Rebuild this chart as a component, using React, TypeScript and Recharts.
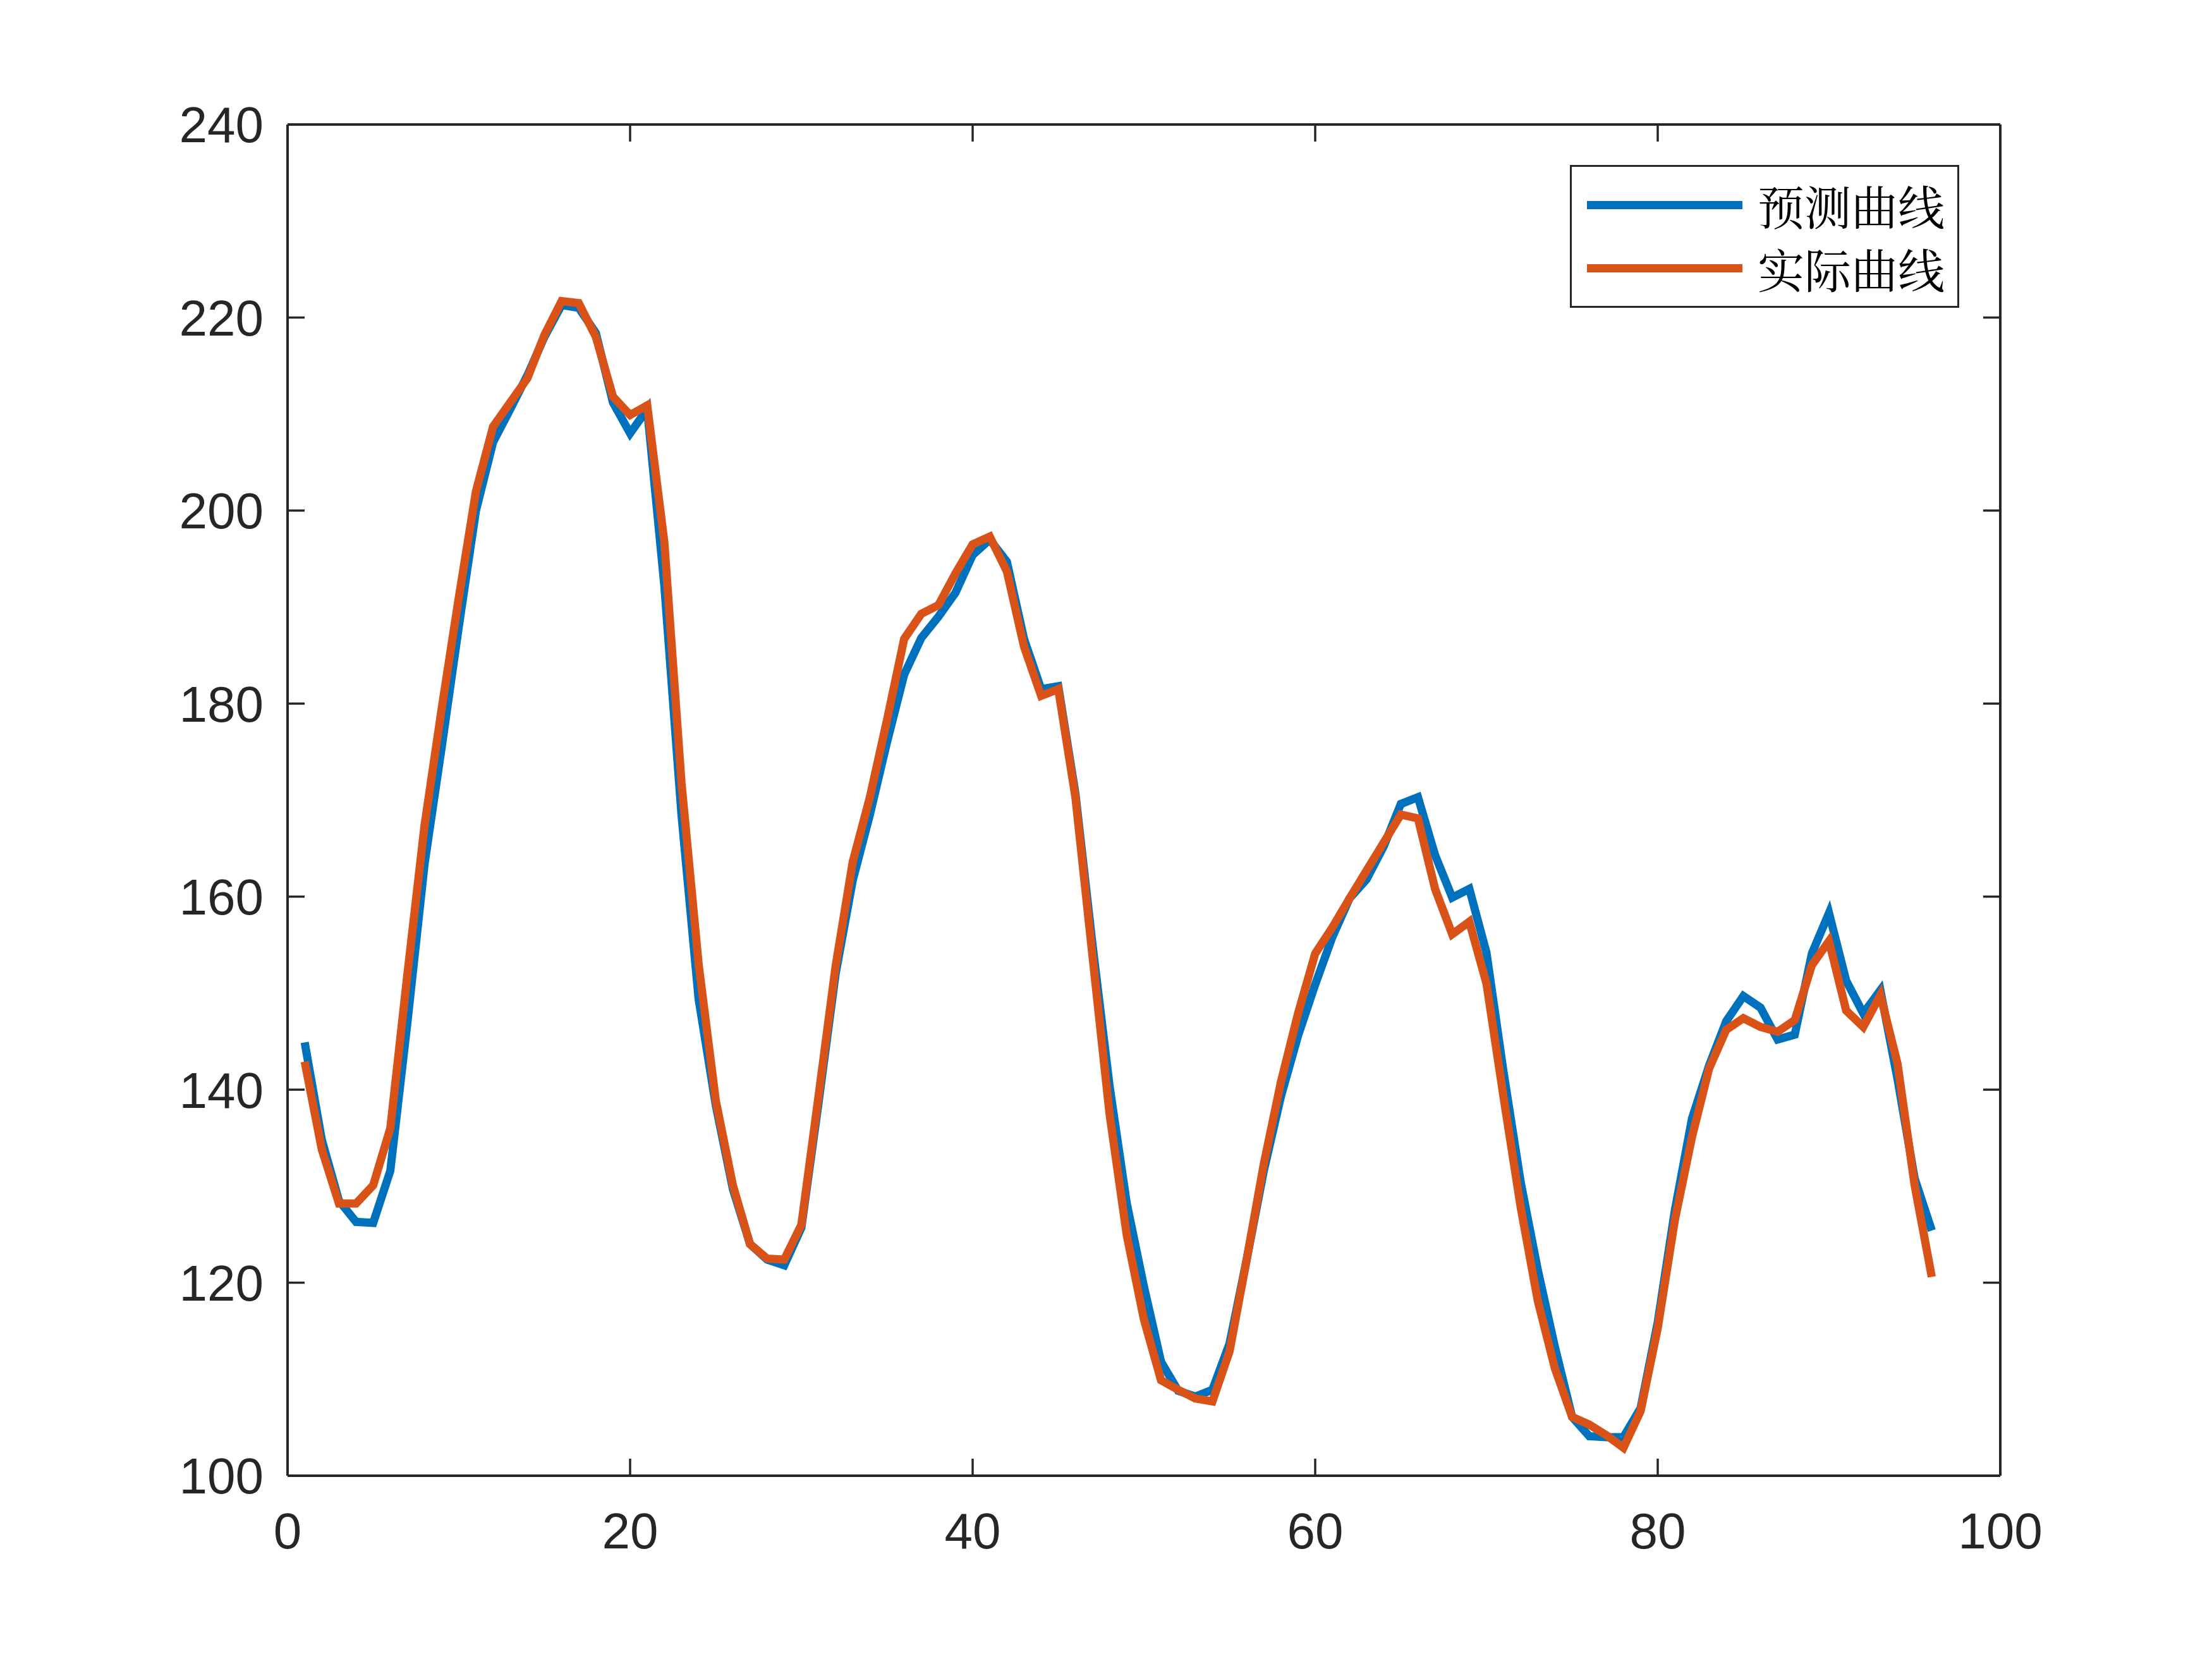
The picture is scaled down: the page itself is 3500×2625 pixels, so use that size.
import React from "react";
import { LineChart, Line, XAxis, YAxis, ReferenceLine } from "recharts";

const sampleIndex = [
  1, 2, 3, 4, 5, 6, 7, 8, 9, 10, 11, 12, 13, 14, 15, 16, 17, 18, 19, 20,
  21, 22, 23, 24, 25, 26, 27, 28, 29, 30, 31, 32, 33, 34, 35, 36, 37, 38, 39, 40,
  41, 42, 43, 44, 45, 46, 47, 48, 49, 50, 51, 52, 53, 54, 55, 56, 57, 58, 59, 60,
  61, 62, 63, 64, 65, 66, 67, 68, 69, 70, 71, 72, 73, 74, 75, 76, 77, 78, 79, 80,
  81, 82, 83, 84, 85, 86, 87, 88, 89, 90, 91, 92, 93, 94, 95, 96,
];

const predicted = [
  144.9, 134.8, 128.5, 126.3, 126.2, 131.6, 147, 163.4, 175.5, 188, 200, 207.1, 210.5, 214, 218, 221.3, 221, 218.4, 211.2, 208,
  210.5, 192.2, 168.5, 149.4, 138.4, 129.7, 124, 122.4, 121.8, 125.7, 138.6, 152, 161.7, 168.5, 176, 183, 186.8, 189, 191.5, 195.4,
  197, 194.7, 186.7, 181.5, 181.8, 170.7, 155, 140.3, 128.2, 119.6, 111.8, 108.8, 108.2, 108.9, 113.7, 122.4, 131.6, 139.3, 145.6, 150.9,
  155.8, 159.8, 161.8, 165.2, 169.6, 170.3, 164.3, 159.9, 160.8, 154.2, 141.8, 130.4, 121.3, 113.3, 106.1, 104.1, 104, 104, 107, 115.9,
  127.5, 137, 142.5, 147.1, 149.7, 148.5, 145.2, 145.7, 154.1, 158.3, 151.3, 147.9, 150.3, 141.1, 130.8, 125.4,
];

const actual = [
  142.9, 133.8, 128.2, 128.2, 130.1, 136, 152, 167.4, 179.5, 191, 202, 208.7, 211.2, 213.7, 218.2, 221.7, 221.5, 218, 211.8, 209.9,
  210.9, 196.7, 171.8, 153, 138.9, 130.1, 124, 122.5, 122.4, 126, 139.3, 152.8, 163.6, 170.3, 178.3, 186.7, 189.3, 190.2, 193.5, 196.5,
  197.3, 193.7, 185.9, 180.8, 181.5, 170.3, 153.8, 137.4, 124.9, 116.2, 109.9, 108.9, 108, 107.7, 112.9, 122.4, 132.3, 140.8, 147.9, 154.1,
  156.8, 159.8, 162.7, 165.6, 168.5, 168.1, 160.8, 156.1, 157.4, 151, 139.2, 127.8, 118.1, 111.1, 106.1, 105.3, 104.2, 102.9, 106.7, 115.3,
  126.5, 135.1, 142.2, 146.2, 147.4, 146.5, 146, 147.2, 152.9, 155.4, 148.2, 146.5, 149.8, 142.7, 130.1, 120.6,
];

const xTicks = [0, 20, 40, 60, 80, 100];
const yTicks = [100, 120, 140, 160, 180, 200, 220, 240];
const xDomain = [0, 100];
const yDomain = [100, 240];
const seriesNames = ["预测曲线", "实际曲线"];
const seriesColors = ["#0072BD", "#D95319"];

const data = sampleIndex.map((x, i) => ({ x, predicted: predicted[i], actual: actual[i] }));

const AXIS_COLOR = "#262626";
const tickFont = { fontFamily: "'Liberation Sans', Arial, Helvetica, sans-serif", fontSize: 80, fill: AXIS_COLOR };
// inner tick length expressed in data units (27px on this plot)
const X_TICK_LEN = 1.0;
const Y_TICK_LEN = 1.77;

const LegendBox = () => (
  <div
    style={{
      position: "absolute",
      left: 2484,
      top: 261,
      width: 616,
      height: 226,
      boxSizing: "border-box",
      border: `3px solid ${AXIS_COLOR}`,
      background: "#fff",
    }}
  >
    {seriesNames.map((name, i) => (
      <div key={name} style={{ position: "absolute", left: 0, top: 10 + i * 100, height: 100, width: "100%" }}>
        <div
          style={{
            position: "absolute",
            left: 24,
            top: 44,
            width: 246,
            height: 13,
            background: seriesColors[i],
          }}
        />
        <div
          style={{
            position: "absolute",
            left: 294,
            top: 0,
            height: 100,
            lineHeight: "100px",
            fontSize: 74,
            color: "#000",
            fontFamily: "'Noto Serif CJK SC', 'Noto Sans CJK SC', serif",
            whiteSpace: "nowrap",
          }}
        >
          {name}
        </div>
      </div>
    ))}
  </div>
);

export default function App() {
  const frame = { stroke: AXIS_COLOR, strokeWidth: 4 };
  const tickStyle = { stroke: AXIS_COLOR, strokeWidth: 3.5 };
  return (
    <div style={{ position: "absolute", left: 0, top: 0, width: 3500, height: 2625, background: "#fff" }}>
      <LineChart
        width={3500}
        height={2625}
        data={data}
        margin={{ top: 197, right: 335, bottom: 190, left: 255 }}
      >
        <XAxis
          xAxisId="bottom"
          dataKey="x"
          type="number"
          domain={xDomain}
          ticks={xTicks}
          orientation="bottom"
          height={100}
          tickSize={-27}
          tickMargin={85}
          axisLine={frame}
          tickLine={tickStyle}
          tick={tickFont}
          interval={0}
        />
        <YAxis
          yAxisId="left"
          type="number"
          domain={yDomain}
          ticks={yTicks}
          orientation="left"
          width={200}
          tickSize={-27}
          tickMargin={65}
          axisLine={frame}
          tickLine={tickStyle}
          tick={tickFont}
          interval={0}
        />
        <ReferenceLine
          xAxisId="bottom"
          yAxisId="left"
          y={yDomain[1]}
          stroke={AXIS_COLOR}
          strokeWidth={4}
          ifOverflow="visible"
        />
        <ReferenceLine
          xAxisId="bottom"
          yAxisId="left"
          x={xDomain[1]}
          stroke={AXIS_COLOR}
          strokeWidth={4}
          ifOverflow="visible"
        />
        {xTicks.map((t) => (
          <ReferenceLine
            key={`tt${t}`}
            xAxisId="bottom"
            yAxisId="left"
            segment={[
              { x: t, y: yDomain[1] },
              { x: t, y: yDomain[1] - Y_TICK_LEN },
            ]}
            stroke={AXIS_COLOR}
            strokeWidth={3.5}
            ifOverflow="visible"
          />
        ))}
        {yTicks.map((t) => (
          <ReferenceLine
            key={`rt${t}`}
            xAxisId="bottom"
            yAxisId="left"
            segment={[
              { x: xDomain[1], y: t },
              { x: xDomain[1] - X_TICK_LEN, y: t },
            ]}
            stroke={AXIS_COLOR}
            strokeWidth={3.5}
            ifOverflow="visible"
          />
        ))}
        <Line
          xAxisId="bottom"
          yAxisId="left"
          type="linear"
          dataKey="predicted"
          name={seriesNames[0]}
          stroke={seriesColors[0]}
          strokeWidth={13}
          dot={false}
          isAnimationActive={false}
        />
        <Line
          xAxisId="bottom"
          yAxisId="left"
          type="linear"
          dataKey="actual"
          name={seriesNames[1]}
          stroke={seriesColors[1]}
          strokeWidth={13}
          dot={false}
          isAnimationActive={false}
        />
      </LineChart>
      <LegendBox />
    </div>
  );
}
